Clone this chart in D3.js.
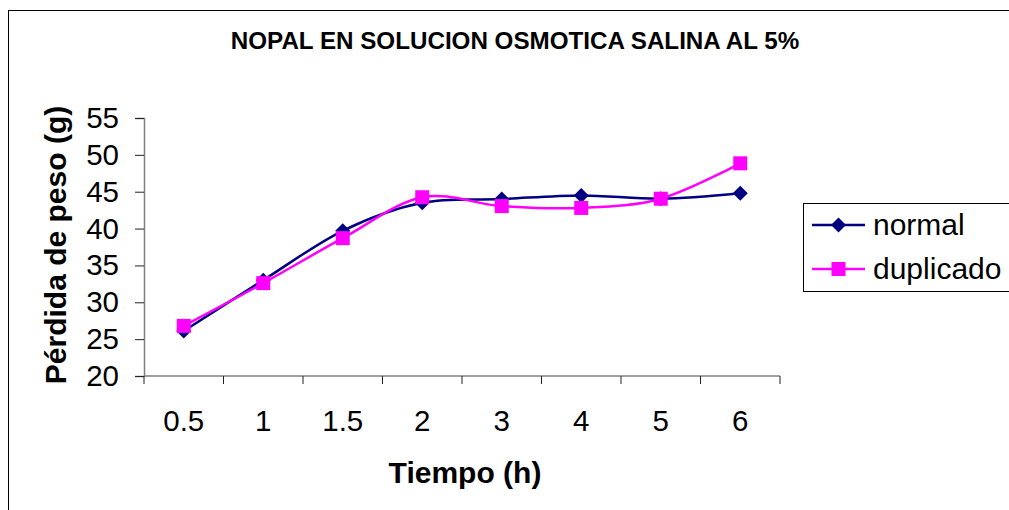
<!DOCTYPE html>
<html>
<head>
<meta charset="utf-8">
<script src="https://cdn.jsdelivr.net/npm/d3@7"></script>
<style>
  html, body { margin: 0; padding: 0; background: #fff; }
  svg { display: block; font-family: "Liberation Sans", Arial, sans-serif; }
</style>
</head>
<body>
<svg id="chart" width="1009" height="510"></svg>
<script>
// Weight loss of nopal in 5% saline osmotic solution
const categories = ["0.5", "1", "1.5", "2", "3", "4", "5", "6"];
const normal = [26.1, 33.0, 39.7, 43.5, 44.0, 44.5, 44.05, 44.8];
const duplicado = [26.8, 32.6, 38.7, 44.25, 43.05, 42.8, 44.05, 48.85];
const yTicks = [20, 25, 30, 35, 40, 45, 50, 55];

const svg = d3.select("#chart");

// chart frame
svg.append("rect")
  .attr("x", 8.5).attr("y", 10.5)
  .attr("width", 1020).attr("height", 520)
  .attr("fill", "#fff").attr("stroke", "#000").attr("stroke-width", 1);

const plot = { left: 144, right: 780, top: 118, bottom: 376 };

const x = d3.scaleBand().domain(categories).range([plot.left, plot.right]).padding(0);
const y = d3.scaleLinear().domain([20, 55]).range([plot.bottom, plot.top]);

// title
svg.append("text")
  .attr("x", 515).attr("y", 49)
  .attr("text-anchor", "middle")
  .attr("font-size", 24.2).attr("font-weight", "bold")
  .text("NOPAL EN SOLUCION OSMOTICA SALINA AL 5%");

// y axis
const yAxis = svg.append("g")
  .attr("transform", `translate(${plot.left},0)`)
  .call(d3.axisLeft(y).tickValues(yTicks).tickSize(9).tickPadding(16).tickFormat(d3.format("d")));
yAxis.select(".domain").attr("stroke", "#808080").attr("stroke-width", 1.5);
yAxis.selectAll(".tick line").attr("stroke", "#222");
yAxis.selectAll(".tick text")
  .attr("font-size", 29.5).attr("fill", "#000")
  .attr("font-family", "Liberation Sans, Arial, sans-serif");

// x axis: ticks on category boundaries, labels at category centres
const xg = svg.append("g").attr("transform", `translate(0,${plot.bottom})`);
xg.append("line")
  .attr("x1", plot.left).attr("x2", plot.right)
  .attr("stroke", "#808080").attr("stroke-width", 1.5);
const bounds = categories.map(c => x(c)).concat([x(categories[categories.length - 1]) + x.bandwidth()]);
xg.selectAll("line.tick").data(bounds).join("line")
  .attr("class", "tick")
  .attr("x1", d => d).attr("x2", d => d)
  .attr("y1", 0).attr("y2", 8)
  .attr("stroke", "#222");
xg.selectAll("text").data(categories).join("text")
  .attr("x", d => x(d) + x.bandwidth() / 2)
  .attr("y", 55)
  .attr("text-anchor", "middle")
  .attr("font-size", 29.5)
  .text(d => d);

// axis titles
svg.append("text")
  .attr("x", 465).attr("y", 483)
  .attr("text-anchor", "middle")
  .attr("font-size", 30).attr("font-weight", "bold")
  .text("Tiempo (h)");
svg.append("text")
  .attr("transform", "translate(66,245) rotate(-90)")
  .attr("text-anchor", "middle")
  .attr("font-size", 30).attr("font-weight", "bold")
  .text("Pérdida de peso (g)");

// series
const cx = c => x(c) + x.bandwidth() / 2;
const line = d3.line()
  .x((d, i) => cx(categories[i]))
  .y(d => y(d))
  .curve(d3.curveCatmullRom.alpha(0));

const series = [
  { name: "normal", values: normal, color: "#000080" },
  { name: "duplicado", values: duplicado, color: "#FF00FF" }
];

function drawMarker(g, s, px, py) {
  if (s.name === "normal") {
    const r = 7.5;
    g.append("path")
      .attr("d", `M${px},${py - r}L${px + r},${py}L${px},${py + r}L${px - r},${py}Z`)
      .attr("fill", s.color);
  } else {
    const h = 7;
    g.append("rect")
      .attr("x", px - h).attr("y", py - h)
      .attr("width", 2 * h).attr("height", 2 * h)
      .attr("fill", s.color);
  }
}

series.forEach(s => {
  svg.append("path")
    .datum(s.values)
    .attr("d", line)
    .attr("fill", "none")
    .attr("stroke", s.color)
    .attr("stroke-width", 2.5);
});
series.forEach(s => {
  const g = svg.append("g");
  s.values.forEach((v, i) => drawMarker(g, s, cx(categories[i]), y(v)));
});

// legend
const lg = svg.append("g");
lg.append("rect")
  .attr("x", 803.5).attr("y", 203.5)
  .attr("width", 230).attr("height", 88)
  .attr("fill", "#fff").attr("stroke", "#000").attr("stroke-width", 1);
series.forEach((s, i) => {
  const ly = 225 + i * 44;
  lg.append("line")
    .attr("x1", 812).attr("x2", 865)
    .attr("y1", ly).attr("y2", ly)
    .attr("stroke", s.color).attr("stroke-width", 2.5);
  drawMarker(lg, s, 838.5, ly);
  lg.append("text")
    .attr("x", 873).attr("y", ly + 10)
    .attr("font-size", 30)
    .text(s.name);
});
</script>
</body>
</html>
